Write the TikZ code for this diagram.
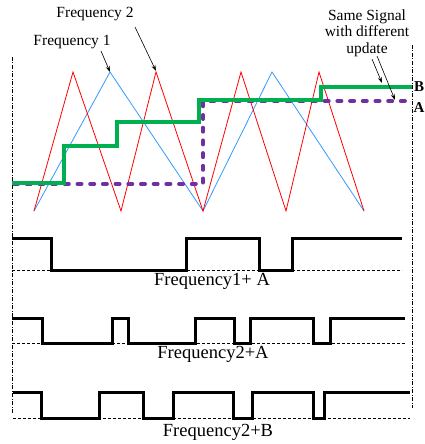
\documentclass[tikz,border=0pt]{standalone}
\usepackage{fontspec}
\setmainfont{Liberation Serif}
\usetikzlibrary{arrows.meta}
\definecolor{fgreen}{RGB}{0,176,80}
\definecolor{fpurple}{RGB}{112,48,160}
\definecolor{fblue}{RGB}{51,153,255}
\definecolor{fred}{RGB}{255,0,0}
\begin{document}
\begin{tikzpicture}[x=1pt,y=-1pt,
  tri/.style={line width=0.8pt},
  stair/.style={line width=4pt,fgreen},
  purp/.style={line width=4pt,fpurple,dash pattern=on 4pt off 8.7pt,line cap=round},
  pwm/.style={line width=3pt,black},
  base/.style={line width=0.6pt,dash pattern=on 3pt off 2pt},
  frame/.style={line width=0.6pt,dash pattern=on 4pt off 1.5pt on 1pt off 1.5pt},
  lbl/.style={font=\fontsize{15.5}{16.5}\selectfont,inner sep=0pt},
  blbl/.style={font=\fontsize{18.5}{20}\selectfont,inner sep=0pt},
  ab/.style={font=\fontsize{15}{16}\selectfont\bfseries,inner sep=0pt},
  arr/.style={line width=0.6pt,-{Stealth[length=6pt,width=4pt]}}]
\useasboundingbox (0,0) rectangle (425,444);
% frame lines
\draw[frame] (12,57) -- (12,413);
\draw[frame] (412,45) -- (412,408);
% triangles
\draw[tri,fblue] (34,211) -- (110,72) -- (203,211) -- (272,72) -- (364,211);
\draw[tri,fred] (34,211) -- (73,72) -- (121,211) -- (156,72) -- (203,211) -- (241,72) -- (286,211) -- (319,72) -- (364,211);
% purple dashed
\draw[purp] (14,184) -- (203,184) -- (203,101) -- (412,101);
% green stair
\draw[stair] (12,183) -- (64,183) -- (64,146) -- (117,146) -- (117,122) -- (199,122) -- (199,100) -- (321,100) -- (321,87) -- (412,87);
% labels top
\node[lbl] (f2) at (95,14) {Frequency 2};
\node[lbl] (f1) at (72,42) {Frequency 1};
\node[lbl,align=center] (ss) at (367,33) {Same Signal\\with different\\update};
\node[ab] (B) at (419,87) {B};
\node[ab] (A) at (419,108) {A};
\coordinate (f1s) at (101,51);
\coordinate (f1t) at (110,72);
\coordinate (f2s) at (135,27);
\coordinate (f2t) at (156,71);
\coordinate (ss1) at (372,59);
\coordinate (ss1t) at (382,83);
\coordinate (ss2) at (377,56);
\coordinate (ss2t) at (395,100);
\draw[arr] (f1s) -- (f1t);
\draw[arr] (f2s) -- (f2t);
\draw[arr] (ss1) -- (ss1t);
\draw[arr] (ss2) -- (ss2t);
% waveform 1
\draw[base] (12,270) -- (402,270);
\draw[pwm] (12,238) -- (51,238) -- (51,270) -- (186,270) -- (186,238) -- (259,238) -- (259,270) -- (292,270) -- (292,238) -- (402,238);
\node[blbl] (w1) at (212,281) {Frequency1+ A};
% waveform 2
\draw[base] (12,343) -- (405,343);
\draw[pwm] (12,318) -- (42,318) -- (42,343) -- (112,343) -- (112,318) -- (128,318) -- (128,343) -- (195,343) -- (195,318) -- (234,318) -- (234,343) -- (250,343) -- (250,318) -- (313,318) -- (313,343) -- (330,343) -- (330,318) -- (405,318);
\node[blbl] (w2) at (213,354) {Frequency2+A};
% waveform 3
\draw[base] (13,418) -- (410,418);
\draw[pwm] (13,392) -- (41,392) -- (41,418) -- (99,418) -- (99,392) -- (143,392) -- (143,418) -- (173,418) -- (173,392) -- (233,392) -- (233,418) -- (252,418) -- (252,392) -- (313,392) -- (313,418) -- (324,418) -- (324,392) -- (410,392);
\node[blbl] (w3) at (218,432) {Frequency2+B};
\end{tikzpicture}
\end{document}
